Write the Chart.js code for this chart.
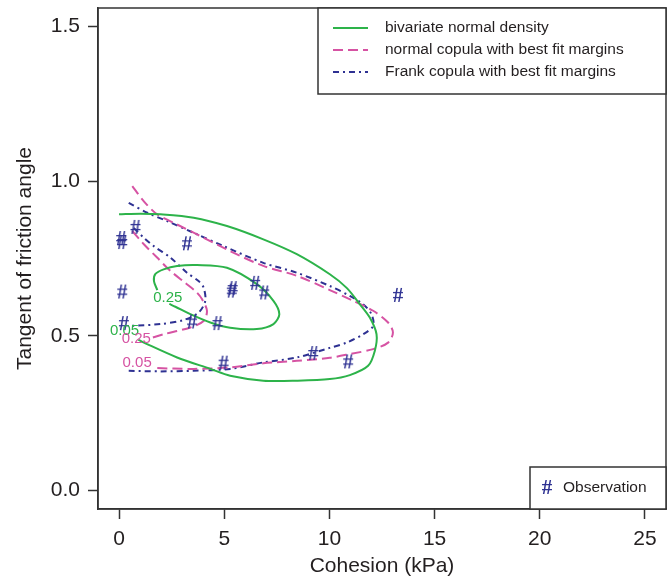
<!DOCTYPE html>
<html>
<head>
<meta charset="utf-8">
<script src="https://cdn.jsdelivr.net/npm/chart.js@4"></script>
<style>
  html, body { margin: 0; padding: 0; background: #fff; }
  canvas { display: block; }
</style>
</head>
<body>
<canvas id="chart" width="672" height="579"></canvas>
<script>
// ---- data ----
const cohesionTicks = [0, 5, 10, 15, 20, 25];
const tanTicks = [0, 0.5, 1.0, 1.5];

// observations (#)
const obsCohesion = [0.1, 0.15, 0.78, 3.23, 0.15, 0.23, 3.47, 4.68, 5.36, 5.40, 6.47, 6.9, 4.97, 9.23, 10.89, 13.26];
const obsTan      = [0.813, 0.800, 0.849, 0.796, 0.64, 0.538, 0.543, 0.538, 0.643, 0.651, 0.668, 0.637, 0.41, 0.441, 0.414, 0.629];

// bivariate normal density contours
const bvnOuterX = [0, 1.02, 1.97, 3.55, 5.13, 6.86, 8.45, 10.02, 10.82, 11.45, 11.92, 12.24, 12.16, 11.84, 10.97, 10.02, 8.45, 6.86, 5.28, 4.34, 2.76, 1.18, 0.92];
const bvnOuterY = [0.893, 0.895, 0.893, 0.882, 0.855, 0.812, 0.764, 0.699, 0.655, 0.602, 0.559, 0.505, 0.452, 0.403, 0.373, 0.36, 0.355, 0.355, 0.371, 0.393, 0.43, 0.478, 0.487];
const bvnInnerX = [1.82, 1.66, 1.73, 2.12, 2.76, 3.71, 5.13, 6.55, 7.34, 7.62, 7.34, 6.55, 5.28, 4.34, 3.39, 2.68, 2.39];
const bvnInnerY = [0.648, 0.677, 0.7, 0.715, 0.726, 0.729, 0.72, 0.667, 0.613, 0.57, 0.538, 0.522, 0.526, 0.543, 0.57, 0.594, 0.603];

// normal copula with best fit margins
const ncOuterX = [0.63, 1.18, 1.81, 2.76, 3.71, 5.28, 6.86, 8.45, 10.02, 11.13, 12.08, 12.79, 13.02, 12.79, 12.08, 10.97, 10.02, 8.45, 6.86, 5.28, 3.55, 1.65];
const ncOuterY = [0.984, 0.935, 0.893, 0.86, 0.828, 0.774, 0.726, 0.694, 0.648, 0.613, 0.581, 0.543, 0.511, 0.478, 0.457, 0.441, 0.429, 0.419, 0.411, 0.398, 0.393, 0.396];
const ncInnerX = [0.63, 1.18, 1.81, 2.44, 3.15, 3.67, 3.94, 4.18, 4.02, 3.39, 2.12, 1.49];
const ncInnerY = [0.839, 0.796, 0.753, 0.71, 0.671, 0.642, 0.619, 0.581, 0.548, 0.527, 0.505, 0.492];

// Frank copula with best fit margins
const fcOuterX = [0.46, 1.34, 2.28, 3.55, 4.97, 6.86, 8.45, 10.02, 10.97, 11.6, 12.0, 12.08, 11.6, 10.82, 10.02, 8.45, 6.86, 5.28, 3.55, 1.97, 0.46];
const fcOuterY = [0.93, 0.898, 0.871, 0.833, 0.79, 0.736, 0.704, 0.661, 0.629, 0.602, 0.57, 0.532, 0.505, 0.478, 0.461, 0.43, 0.414, 0.393, 0.387, 0.385, 0.387];
const fcInnerX = [0.7, 1.18, 1.65, 2.44, 3.23, 3.78, 4.02, 4.1, 3.78, 3.07, 1.97, 0.55];
const fcInnerY = [0.849, 0.817, 0.79, 0.753, 0.704, 0.677, 0.656, 0.613, 0.575, 0.551, 0.538, 0.532];

// contour labels
const contourLabels = [
  { text: '0.25', x: 2.32, y: 0.624, color: '#2db34a' },
  { text: '0.05', x: 0.26, y: 0.516, color: '#2db34a' },
  { text: '0.25', x: 0.82, y: 0.489, color: '#d653a3' },
  { text: '0.05', x: 0.86, y: 0.414, color: '#d653a3' }
];

// ---- styles ----
const GREEN = '#2db34a';
const PINK = '#d653a3';
const BLUE = '#2e3192';
const AXIS = '#333333';
const TEXT = '#231f20';
const FONT = '"Liberation Sans", Arial, Helvetica, sans-serif';

const pts = (xs, ys) => xs.map((x, i) => ({ x: x, y: ys[i] }));

// "#" glyph used as point marker
const hash = document.createElement('canvas');
hash.width = 20; hash.height = 22;
(function () {
  const g = hash.getContext('2d');
  g.fillStyle = BLUE;
  g.font = 'bold 21px "Liberation Serif", "Times New Roman", serif';
  g.textAlign = 'center';
  g.textBaseline = 'middle';
  g.fillText('#', 10, 12);
})();

function lineSet(data, color, dash) {
  return {
    data: data,
    showLine: true,
    borderColor: color,
    borderWidth: 2,
    borderDash: dash,
    pointRadius: 0,
    tension: 0.3,
    fill: false
  };
}

// frame box, legends, contour labels
const decorations = {
  id: 'decorations',
  afterDatasetsDraw(chart) {
    const { ctx, scales: { x, y } } = chart;
    ctx.save();
    ctx.font = '15px ' + FONT;
    ctx.textAlign = 'center';
    ctx.textBaseline = 'middle';
    contourLabels.forEach(l => {
      ctx.fillStyle = l.color;
      ctx.fillText(l.text, x.getPixelForValue(l.x), y.getPixelForValue(l.y));
    });
    ctx.restore();
  },
  afterDraw(chart) {
    const { ctx, chartArea: { left, top, right, bottom } } = chart;
    ctx.save();
    ctx.strokeStyle = AXIS;
    ctx.lineWidth = 1.5;
    ctx.strokeRect(left, top, right - left, bottom - top);

    // line legend, top right
    const lx = right - 348, lw = 348, lh = 86;
    ctx.fillStyle = '#fff';
    ctx.fillRect(lx, top, lw, lh);
    ctx.strokeRect(lx, top, lw, lh);
    const rows = [
      ['bivariate normal density', GREEN, []],
      ['normal copula with best fit margins', PINK, [10, 5]],
      ['Frank copula with best fit margins', BLUE, [6, 4, 2, 4]]
    ];
    ctx.font = '15.5px ' + FONT;
    ctx.textAlign = 'left';
    ctx.textBaseline = 'middle';
    rows.forEach((r, i) => {
      const ry = top + 20 + i * 22;
      ctx.strokeStyle = r[1];
      ctx.lineWidth = 2;
      ctx.setLineDash(r[2]);
      ctx.beginPath();
      ctx.moveTo(lx + 15, ry);
      ctx.lineTo(lx + 50, ry);
      ctx.stroke();
      ctx.setLineDash([]);
      ctx.fillStyle = TEXT;
      ctx.fillText(r[0], lx + 67, ry);
    });

    // observation legend, bottom right
    const ox = right - 136, oh = 42;
    ctx.fillStyle = '#fff';
    ctx.fillRect(ox, bottom - oh, 136, oh);
    ctx.strokeStyle = AXIS;
    ctx.lineWidth = 1.5;
    ctx.strokeRect(ox, bottom - oh, 136, oh);
    ctx.drawImage(hash, ox + 7, bottom - oh / 2 - 11);
    ctx.fillStyle = TEXT;
    ctx.font = '15.5px ' + FONT;
    ctx.fillText('Observation', ox + 33, bottom - oh / 2);
    ctx.restore();
  }
};

const ctx = document.getElementById('chart').getContext('2d');
new Chart(ctx, {
  type: 'scatter',
  data: {
    datasets: [
      { data: pts(obsCohesion, obsTan), pointStyle: hash, pointRadius: 10, showLine: false },
      lineSet(pts(bvnOuterX, bvnOuterY), GREEN, []),
      lineSet(pts(bvnInnerX, bvnInnerY), GREEN, []),
      lineSet(pts(ncOuterX, ncOuterY), PINK, [10, 5]),
      lineSet(pts(ncInnerX, ncInnerY), PINK, [10, 5]),
      lineSet(pts(fcOuterX, fcOuterY), BLUE, [6, 4, 2, 4]),
      lineSet(pts(fcInnerX, fcInnerY), BLUE, [6, 4, 2, 4])
    ]
  },
  options: {
    responsive: false,
    animation: false,
    layout: { autoPadding: false, padding: { top: 8, right: 6, left: 0, bottom: 0 } },
    plugins: { legend: { display: false }, tooltip: { enabled: false } },
    scales: {
      x: {
        type: 'linear',
        min: -1,
        max: 26,
        afterBuildTicks: s => { s.ticks = cohesionTicks.map(v => ({ value: v })); },
        afterFit: s => { s.height = 70; s.paddingLeft = 0; s.paddingRight = 0; },
        grid: { display: true, drawOnChartArea: false, drawTicks: true, tickLength: 10, tickColor: AXIS, tickWidth: 1.5 },
        border: { display: true, color: AXIS, width: 1.5 },
        ticks: { color: TEXT, font: { family: FONT, size: 21 }, padding: 8, maxRotation: 0, autoSkip: false },
        title: { display: true, text: 'Cohesion (kPa)', color: TEXT, font: { family: FONT, size: 21 }, padding: { top: 0, bottom: 0 } }
      },
      y: {
        type: 'linear',
        min: -0.06,
        max: 1.56,
        afterBuildTicks: s => { s.ticks = tanTicks.map(v => ({ value: v })); },
        afterFit: s => { s.width = 98; s.paddingTop = 0; s.paddingBottom = 0; },
        grid: { display: true, drawOnChartArea: false, drawTicks: true, tickLength: 10, tickColor: AXIS, tickWidth: 1.5 },
        border: { display: true, color: AXIS, width: 1.5 },
        ticks: { color: TEXT, font: { family: FONT, size: 21 }, padding: 8, callback: v => Number(v).toFixed(1) },
        title: { display: true, text: 'Tangent of friction angle', color: TEXT, font: { family: FONT, size: 21 }, padding: { top: 13, bottom: 0 } }
      }
    }
  },
  plugins: [decorations]
});
</script>
</body>
</html>
